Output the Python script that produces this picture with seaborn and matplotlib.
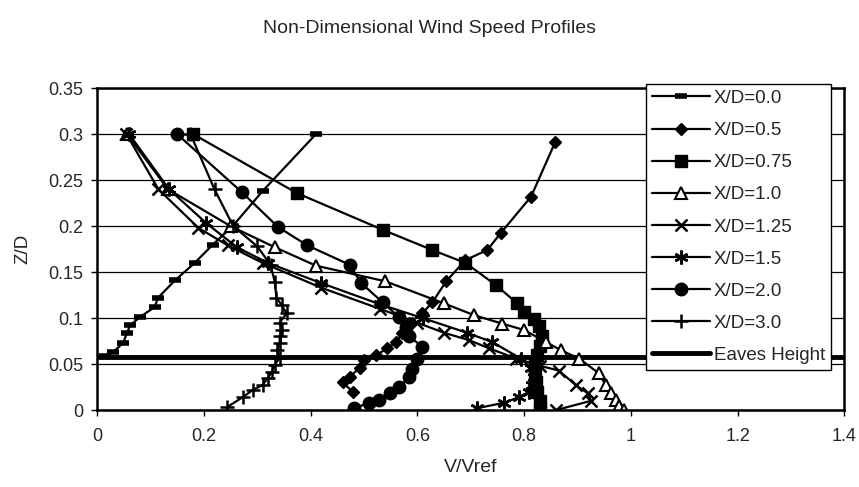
import matplotlib
matplotlib.use('Agg')
import seaborn as sns
import matplotlib.pyplot as plt

# ── Data (V/Vref vs Z/D) ────────────────────────────────────────────
XD00_X = [0.41, 0.31, 0.254, 0.217, 0.183, 0.146, 0.114, 0.108, 0.08, 0.062, 0.056, 0.049, 0.03, 0.015]
XD00_Y = [0.30, 0.238, 0.20, 0.18, 0.16, 0.141, 0.122, 0.112, 0.101, 0.092, 0.084, 0.073, 0.063, 0.059]

XD05_X = [0.479, 0.46, 0.473, 0.492, 0.50, 0.523, 0.544, 0.56, 0.572, 0.585, 0.609, 0.628,
          0.654, 0.69, 0.731, 0.757, 0.813, 0.858]
XD05_Y = [0.02, 0.03, 0.036, 0.046, 0.054, 0.06, 0.067, 0.074, 0.084, 0.095, 0.105, 0.117,
          0.14, 0.163, 0.174, 0.193, 0.232, 0.291]

XD075_X = [0.18, 0.374, 0.535, 0.628, 0.69, 0.747, 0.787, 0.80, 0.818, 0.828, 0.834, 0.83,
           0.825, 0.82, 0.82, 0.822, 0.825, 0.83, 0.83]
XD075_Y = [0.30, 0.236, 0.196, 0.174, 0.16, 0.136, 0.116, 0.107, 0.099, 0.091, 0.08, 0.07,
           0.06, 0.05, 0.04, 0.03, 0.02, 0.01, 0.0]

XD10_X = [0.056, 0.133, 0.25, 0.333, 0.41, 0.54, 0.65, 0.707, 0.759, 0.80, 0.841, 0.869,
          0.903, 0.94, 0.953, 0.963, 0.972, 0.978, 0.987]
XD10_Y = [0.30, 0.24, 0.20, 0.177, 0.157, 0.14, 0.116, 0.103, 0.094, 0.087, 0.074, 0.065,
          0.056, 0.04, 0.027, 0.018, 0.011, 0.004, 0.0]

XD125_X = [0.055, 0.115, 0.19, 0.245, 0.31, 0.42, 0.53, 0.60, 0.65, 0.697, 0.735, 0.785,
           0.83, 0.865, 0.897, 0.92, 0.925, 0.86]
XD125_Y = [0.30, 0.24, 0.198, 0.179, 0.16, 0.133, 0.11, 0.095, 0.084, 0.076, 0.067, 0.056,
           0.048, 0.043, 0.027, 0.018, 0.01, 0.0]

XD15_X = [0.06, 0.135, 0.205, 0.262, 0.32, 0.42, 0.53, 0.61, 0.693, 0.74, 0.794, 0.812,
          0.818, 0.815, 0.81, 0.79, 0.763, 0.712]
XD15_Y = [0.30, 0.24, 0.203, 0.177, 0.16, 0.138, 0.115, 0.10, 0.084, 0.074, 0.056, 0.046,
          0.036, 0.027, 0.02, 0.014, 0.008, 0.002]

XD20_X = [0.15, 0.271, 0.339, 0.394, 0.473, 0.495, 0.535, 0.566, 0.579, 0.585, 0.609, 0.60,
          0.59, 0.585, 0.566, 0.548, 0.529, 0.51, 0.482]
XD20_Y = [0.30, 0.237, 0.199, 0.179, 0.158, 0.138, 0.117, 0.101, 0.09, 0.08, 0.069, 0.056,
          0.045, 0.036, 0.025, 0.018, 0.011, 0.008, 0.002]

XD30_X = [0.243, 0.273, 0.292, 0.31, 0.32, 0.327, 0.333, 0.342, 0.338, 0.342, 0.342, 0.346,
          0.342, 0.355, 0.346, 0.336, 0.333, 0.325, 0.30, 0.255, 0.22, 0.175]
XD30_Y = [0.003, 0.014, 0.022, 0.027, 0.035, 0.041, 0.049, 0.057, 0.065, 0.073, 0.08, 0.087,
          0.095, 0.105, 0.114, 0.122, 0.139, 0.158, 0.178, 0.20, 0.24, 0.30]

EAVES_HEIGHT = 0.058

X_TICKS = [0, 0.2, 0.4, 0.6, 0.8, 1.0, 1.2, 1.4]
X_TICK_LABELS = ['0', '0.2', '0.4', '0.6', '0.8', '1', '1.2', '1.4']
Y_TICKS = [0, 0.05, 0.1, 0.15, 0.2, 0.25, 0.3, 0.35]
Y_TICK_LABELS = ['0', '0.05', '0.1', '0.15', '0.2', '0.25', '0.3', '0.35']

# ── Style ───────────────────────────────────────────────────────────
sns.set_style('white')
plt.rcParams['font.family'] = ['Liberation Sans', 'DejaVu Sans']

# label, x, y, marker style
series = [
    ('X/D=0.0', XD00_X, XD00_Y, dict(marker='_', markersize=9, markeredgewidth=4)),
    ('X/D=0.5', XD05_X, XD05_Y, dict(marker='D', markersize=6.5, markeredgewidth=1)),
    ('X/D=0.75', XD075_X, XD075_Y, dict(marker='s', markersize=8, markeredgewidth=1)),
    ('X/D=1.0', XD10_X, XD10_Y, dict(marker='^', markersize=8, markeredgewidth=1.5,
                                     markerfacecolor='white')),
    ('X/D=1.25', XD125_X, XD125_Y, dict(marker='x', markersize=8, markeredgewidth=1.8)),
    ('X/D=1.5', XD15_X, XD15_Y, dict(marker=(6, 2, 0), markersize=10, markeredgewidth=1.8)),
    ('X/D=2.0', XD20_X, XD20_Y, dict(marker='o', markersize=9, markeredgewidth=1)),
    ('X/D=3.0', XD30_X, XD30_Y, dict(marker='+', markersize=10, markeredgewidth=1.8)),
]

fig = plt.figure(figsize=(8.59, 4.87), dpi=100)
ax = fig.add_axes([0.113, 0.158, 0.870, 0.661])

for label, xs, ys, mstyle in series:
    kws = dict(markerfacecolor='black', markeredgecolor='black')
    kws.update(mstyle)
    sns.lineplot(x=xs, y=ys, sort=False, estimator=None, color='black',
                 linewidth=1.6, label=label, ax=ax, **kws)

ax.axhline(EAVES_HEIGHT, color='black', linewidth=3.5, label='Eaves Height', zorder=1)

# Axes formatting
ax.set_xlim(0, 1.4)
ax.set_ylim(0, 0.35)
ax.set_xticks(X_TICKS)
ax.set_xticklabels(X_TICK_LABELS)
ax.set_yticks(Y_TICKS)
ax.set_yticklabels(Y_TICK_LABELS)
ax.tick_params(axis='both', labelsize=13, length=4, width=1, direction='out',
               bottom=True, left=True, color='black')
ax.tick_params(axis='x', pad=9)
ax.tick_params(axis='y', pad=6)
ax.yaxis.grid(True, color='black', linewidth=0.9)
ax.xaxis.grid(False)
ax.set_axisbelow(True)
for side in ['left', 'bottom', 'top', 'right']:
    ax.spines[side].set_color('black')
    ax.spines[side].set_linewidth(1.8)

ax.set_xlabel('V/Vref', fontsize=14, labelpad=10)
ax.set_ylabel('Z/D', fontsize=13.5, labelpad=12)
fig.suptitle('Non-Dimensional Wind Speed Profiles', fontsize=14, y=0.958)

handles, labels = ax.get_legend_handles_labels()
leg = ax.legend(handles, labels, loc='upper left', bbox_to_anchor=(0.735, 1.012),
                fontsize=13.5, frameon=True, fancybox=False, shadow=False,
                handlelength=3.1, handletextpad=0.2, labelspacing=0.8,
                borderpad=0.3, borderaxespad=0.0)
leg.get_frame().set_edgecolor('black')
leg.get_frame().set_linewidth(1.0)
leg.get_frame().set_alpha(1.0)

fig.savefig('out.png', dpi=100)
plt.close(fig)
